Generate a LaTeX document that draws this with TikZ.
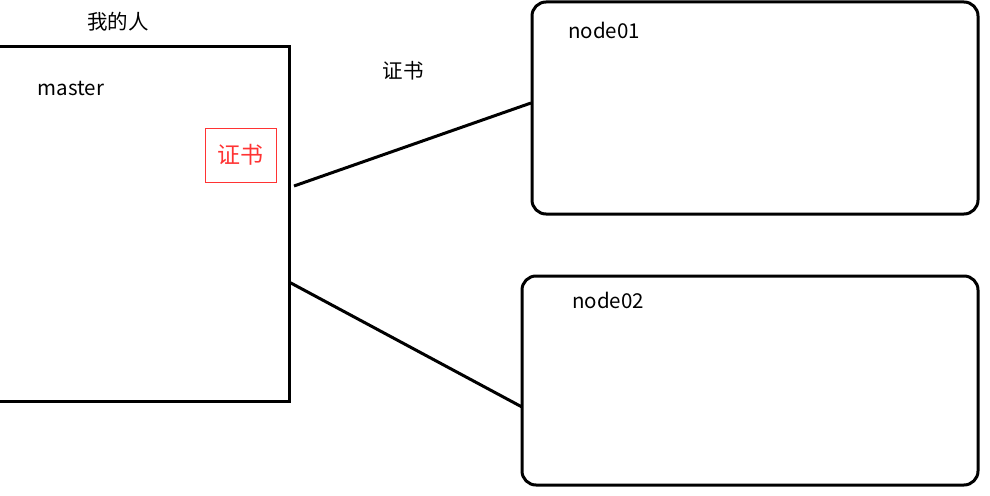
\documentclass[tikz,border=0pt]{standalone}
\usepackage{fontspec}
\setmainfont{Noto Sans CJK SC}
\usetikzlibrary{positioning}

\begin{document}
\begin{tikzpicture}[x=1pt,y=-1pt,
    box/.style={draw,line width=3pt},
    lbl/.style={font=\fontsize{20.5}{24}\selectfont,inner sep=0pt},
    link/.style={line width=3pt}]
    \useasboundingbox (0,0) rectangle (990,495);
    \node[lbl] (who) at (118,22) {我的人};
    \draw[box] (-5,47) rectangle (289,401);
    \node[lbl] (master) at (71,88) {master};
    \node[draw=red!80,line width=1pt,minimum width=71pt,minimum height=54pt,
          text=red!80,lbl,font=\fontsize{23}{26}\selectfont] (cert) at (240.5,155) {证书};
    \node[lbl] (certtxt) at (403,71) {证书};

    \draw[box,rounded corners=14pt] (532,2) rectangle (978,214);
    \node[lbl] (node01) at (604,30) {node01};
    \draw[box,rounded corners=14pt] (522,276) rectangle (978,485);
    \node[lbl] (node02) at (608,300) {node02};

    \coordinate (m1) at (294,186);
    \coordinate (m2) at (289,282);
    \coordinate (n1) at (531,103);
    \coordinate (n2) at (522,407);
    \draw[link] (m1) -- (n1);
    \draw[link] (m2) -- (n2);
\end{tikzpicture}
\end{document}
